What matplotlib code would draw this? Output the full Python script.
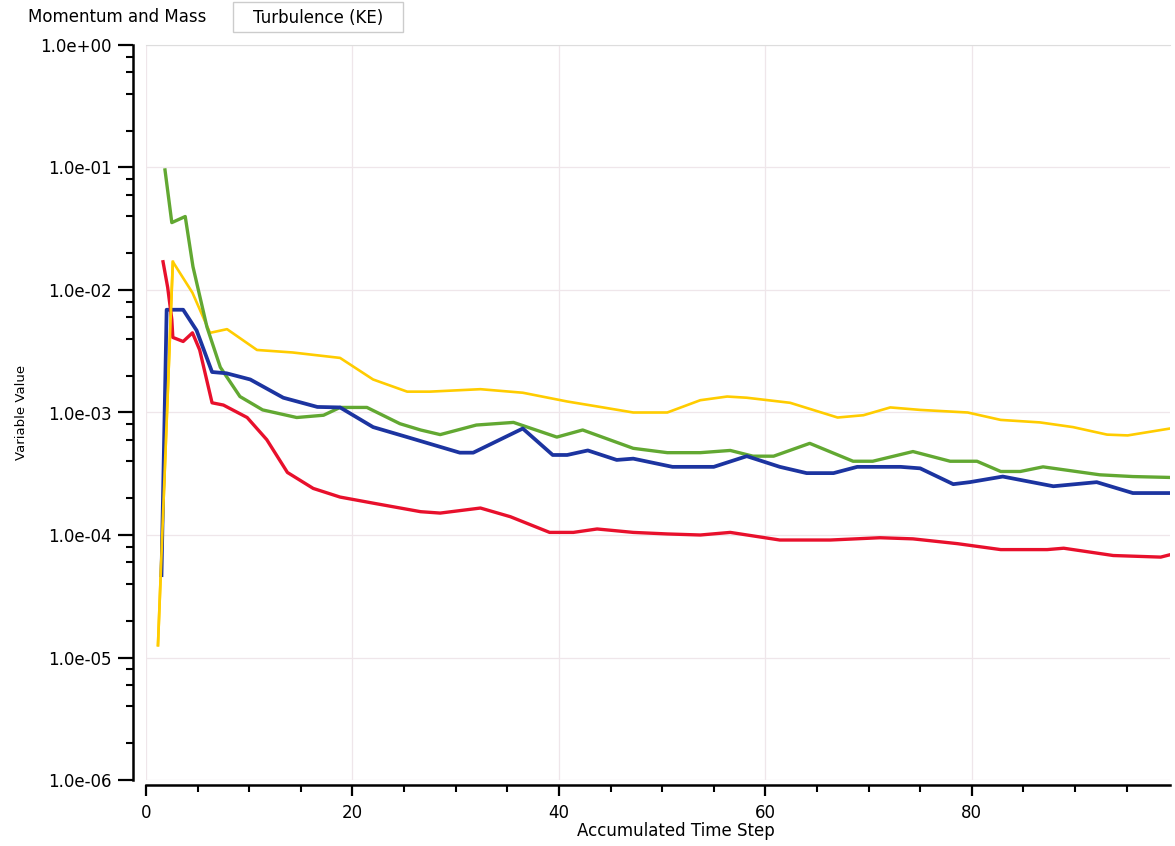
import matplotlib.pyplot as plt
from matplotlib.ticker import LogLocator, MultipleLocator, FixedLocator
from matplotlib.patches import Rectangle

# residual histories (step, value)
red_x = [1.65, 2.1, 2.5, 2.6, 3.6, 4.5, 5.2, 6.4, 7.5, 9.8, 11.7, 13.7, 16.2, 18.8, 22, 26.6,
         28.5, 32.4, 35.3, 39.1, 41.4, 43.7, 47.2, 50.5, 53.7, 56.6, 61.4, 66.3, 71.1, 74.3,
         78.6, 82.8, 87.3, 88.9, 93.7, 98.3, 99.2]
red_y = [0.017, 0.0105, 0.00575, 0.0041, 0.0038, 0.00447, 0.00324, 0.0012, 0.00115, 0.00091,
         0.0006, 0.000324, 0.00024, 0.000204, 0.000182, 0.000155, 0.000151, 0.000166, 0.000141,
         0.000105, 0.000105, 0.000112, 0.000105, 0.000102, 0.0001, 0.000105, 9.1e-5, 9.1e-5,
         9.5e-5, 9.3e-5, 8.5e-5, 7.6e-5, 7.6e-5, 7.8e-5, 6.8e-5, 6.6e-5, 6.9e-5]

yellow_x = [1.16, 2.6, 4.5, 6.2, 7.85, 10.75, 14.2, 18.8, 22, 25.3, 27.5, 32.4, 36.5, 40.8, 44,
            47.2, 50.5, 53.7, 56.3, 58.2, 62.4, 67, 69.5, 72.1, 75, 79.6, 82.8, 86.6, 89.8,
            93.1, 95.1, 99.2]
yellow_y = [1.26e-5, 0.017, 0.0095, 0.00447, 0.00479, 0.00324, 0.00309, 0.00279, 0.00186,
            0.00148, 0.00148, 0.00155, 0.00145, 0.00123, 0.00111, 0.001, 0.001, 0.00126,
            0.00135, 0.00132, 0.0012, 0.00091, 0.00095, 0.0011, 0.00105, 0.001, 0.00087,
            0.00083, 0.00076, 0.00066, 0.00065, 0.00074]

green_x = [1.84, 2.5, 3.8, 4.55, 5.9, 7.2, 9.1, 11.3, 14.6, 17.2, 18.8, 21.4, 24.6, 26.6, 28.5,
           32, 35.6, 39.8, 42.3, 47.2, 50.5, 53.7, 56.6, 58.8, 60.8, 64.3, 68.5, 70.4, 74.3,
           77.9, 80.5, 82.8, 84.7, 86.9, 92.4, 95.6, 99.2]
green_y = [0.0955, 0.0355, 0.0398, 0.0155, 0.005, 0.00234, 0.00135, 0.00105, 0.00091, 0.00095,
           0.0011, 0.0011, 0.00081, 0.00072, 0.00066, 0.00079, 0.00083, 0.00063, 0.00072,
           0.00051, 0.00047, 0.00047, 0.00049, 0.00044, 0.00044, 0.00056, 0.0004, 0.0004,
           0.00048, 0.0004, 0.0004, 0.00033, 0.00033, 0.00036, 0.00031, 0.0003, 0.000295]

blue_x = [1.5, 2.0, 2.5, 3.6, 4.9, 6.4, 7.8, 10.1, 13.3, 16.6, 18.8, 22, 25.3, 30.4, 31.7, 36.5,
          39.4, 40.8, 42.8, 45.6, 47.2, 51, 53.7, 55, 58.2, 61.4, 64, 66.6, 68.9, 73.1, 75,
          78.2, 79.8, 83, 87.9, 92.1, 95.6, 99.2]
blue_y = [4.7e-5, 0.0069, 0.0069, 0.0069, 0.00468, 0.00214, 0.00209, 0.00186, 0.00132, 0.00111,
          0.0011, 0.00076, 0.00063, 0.00047, 0.00047, 0.00074, 0.00045, 0.00045, 0.00049,
          0.00041, 0.00042, 0.00036, 0.00036, 0.00036, 0.00044, 0.00036, 0.00032, 0.00032,
          0.00036, 0.00036, 0.00035, 0.00026, 0.00027, 0.0003, 0.00025, 0.00027, 0.00022,
          0.00022]

y_ticks = [1e0, 1e-1, 1e-2, 1e-3, 1e-4, 1e-5, 1e-6]
y_labels = ['1.0e+00', '1.0e-01', '1.0e-02', '1.0e-03', '1.0e-04', '1.0e-05', '1.0e-06']
x_ticks = [0, 20, 40, 60, 80]

fig = plt.figure(figsize=(11.75, 8.46), dpi=100)
ax = fig.add_axes([146/1175, 1-780/846, 1024/1175, 735/846])

ax.plot(yellow_x, yellow_y, color='#ffcc00', lw=1.9, zorder=3)
ax.plot(green_x, green_y, color='#62a832', lw=2.4, zorder=3)
ax.plot(blue_x, blue_y, color='#1c34a0', lw=2.7, zorder=4)
ax.plot(red_x, red_y, color='#e8102c', lw=2.4, zorder=5)
# yellow drawn again at the start so it sits over blue on the steep rise
ax.plot(yellow_x[:2], yellow_y[:2], color='#ffcc00', lw=1.9, zorder=6)

ax.set_yscale('log')
ax.set_xlim(0, 99.2)
ax.set_ylim(1e-6, 1e0)

ax.yaxis.set_major_locator(FixedLocator(y_ticks))
ax.set_yticklabels(y_labels, fontweight='bold')
ax.yaxis.set_minor_locator(LogLocator(base=10, subs=(2, 4, 6, 8), numticks=20))
ax.yaxis.set_minor_formatter(plt.NullFormatter())
ax.xaxis.set_major_locator(FixedLocator(x_ticks))
ax.set_xticklabels([str(t) for t in x_ticks], fontweight='bold')
ax.xaxis.set_minor_locator(MultipleLocator(5))

ax.spines['left'].set_position(('outward', 9.4))
ax.spines['bottom'].set_position(('outward', 3.6))
ax.spines['left'].set_linewidth(1.8)
ax.spines['bottom'].set_linewidth(1.8)
ax.spines['top'].set_color('#dddddd')
ax.spines['right'].set_visible(False)
ax.spines['top'].set_linewidth(0.8)

ax.tick_params(axis='y', which='major', length=11, width=1.6, labelsize=12, direction='out', pad=4)
ax.tick_params(axis='x', which='major', length=8, width=1.6, labelsize=12, direction='out', pad=6)
ax.tick_params(axis='both', which='minor', length=5, width=1.5, direction='out')

ax.grid(True, which='major', color='#efe6ea', lw=0.9)

ax.set_xlabel('Accumulated Time Step', fontsize=12)
ax.set_ylabel('Variable Value', fontsize=9.5)
ax.xaxis.set_label_coords(0.517, -0.057)
ax.yaxis.set_label_coords(-0.115, 0.5)

# solver-monitor tabs
fig.text(28/1175, 1-17/846, 'Momentum and Mass', fontsize=12, va='center', ha='left')
fig.patches.append(Rectangle((233/1175, 1-32/846), 170/1175, 30/846, transform=fig.transFigure,
                             fill=False, edgecolor='#cccccc', lw=1))
fig.text(253/1175, 1-18/846, 'Turbulence (KE)', fontsize=12, va='center', ha='left')

plt.savefig('out.png', dpi=100)
